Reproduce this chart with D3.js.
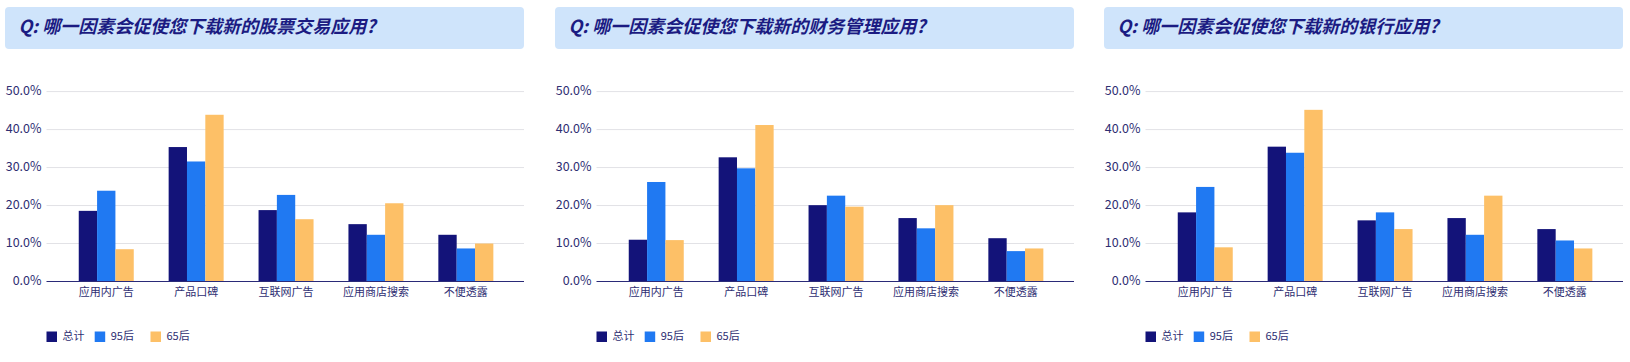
<!DOCTYPE html>
<meta charset="utf-8">
<script src="https://cdn.jsdelivr.net/npm/d3@7/dist/d3.min.js"></script>
<style>
  body { margin: 0; background: #fff; }
  text { font-family: "Noto Sans CJK SC", "Noto Sans", sans-serif; }
</style>
<div id="my_dataviz"></div>
<script>

// data
var titles = [
  "Q: 哪一因素会促使您下载新的股票交易应用?",
  "Q: 哪一因素会促使您下载新的财务管理应用?",
  "Q: 哪一因素会促使您下载新的银行应用?"
];
var categories = ["应用内广告", "产品口碑", "互联网广告", "应用商店搜索", "不便透露"];
var seriesNames = ["总计", "95后", "65后"];
var colors = ["#131379", "#2079f2", "#fdc067"];
var yTicks = [0, 0.1, 0.2, 0.3, 0.4, 0.5];

// values per chart, one array per series (总计, 95后, 65后)
var stockValues = [
  [0.186, 0.354, 0.188, 0.151, 0.123],
  [0.239, 0.316, 0.228, 0.123, 0.087],
  [0.085, 0.439, 0.164, 0.206, 0.100]
];
var financeValues = [
  [0.110, 0.327, 0.201, 0.167, 0.114],
  [0.262, 0.298, 0.226, 0.140, 0.080],
  [0.109, 0.412, 0.197, 0.201, 0.087]
];
var bankValues = [
  [0.182, 0.355, 0.161, 0.167, 0.138],
  [0.249, 0.339, 0.182, 0.123, 0.108],
  [0.090, 0.452, 0.138, 0.226, 0.087]
];
var allValues = [stockValues, financeValues, bankValues];
var offsets = [0, 550, 1099];

var svg = d3.select("#my_dataviz")
  .append("svg")
    .attr("width", 1630)
    .attr("height", 362);

var y = d3.scaleLinear().domain([0, 0.5]).range([281.5, 91.6]);
var x0 = d3.scaleBand().domain(categories).range([61.3, 510.8]);
var x1 = d3.scaleBand().domain(seriesNames).range([-27.5, 27.5]);

allValues.forEach(function(vals, p) {
  var g = svg.append("g")
    .attr("transform", "translate(" + offsets[p] + ",0)");

  // title box
  g.append("rect")
    .attr("x", 5).attr("y", 7)
    .attr("width", 519).attr("height", 42)
    .attr("rx", 4).attr("ry", 4)
    .style("fill", "#cfe4fb");
  g.append("text")
    .attr("x", 18.5).attr("y", 28)
    .attr("dominant-baseline", "middle")
    .style("font-size", "18px")
    .style("font-weight", "bold")
    .style("font-style", "italic")
    .style("fill", "#1b1b82")
    .text(titles[p]);

  // gridlines + y labels
  yTicks.forEach(function(t) {
    if (t > 0) {
      g.append("line")
        .attr("x1", 46.5).attr("x2", 524)
        .attr("y1", y(t)).attr("y2", y(t))
        .style("stroke", "#e2e2e6")
        .style("stroke-width", 1);
    }
    g.append("text")
      .attr("x", 41.5).attr("y", y(t))
      .attr("dominant-baseline", "middle")
      .style("text-anchor", "end")
      .style("font-size", "12.5px")
      .style("fill", "#2e2e72")
      .text(d3.format(".1%")(t));
  });

  // bars
  seriesNames.forEach(function(s, si) {
    g.selectAll(null)
      .data(categories)
      .enter()
      .append("rect")
        .attr("x", function(d) { return x0(d) + x0.bandwidth() / 2 + x1(s); })
        .attr("y", function(d, i) { return y(vals[si][i]); })
        .attr("width", x1.bandwidth())
        .attr("height", function(d, i) { return y(0) - y(vals[si][i]); })
        .style("fill", colors[si]);
  });

  // x axis line
  g.append("line")
    .attr("x1", 46.5).attr("x2", 524)
    .attr("y1", y(0)).attr("y2", y(0))
    .style("stroke", "#2a2a78")
    .style("stroke-width", 1.2);

  // category labels
  g.selectAll(null)
    .data(categories)
    .enter()
    .append("text")
      .attr("x", function(d) { return x0(d) + x0.bandwidth() / 2; })
      .attr("y", 293.5)
      .attr("dominant-baseline", "middle")
      .style("text-anchor", "middle")
      .style("font-size", "11px")
      .style("fill", "#2e2e72")
      .text(function(d) { return d; });

  // legend
  var legX = [46.5, 94.7, 150.5];
  seriesNames.forEach(function(s, si) {
    g.append("rect")
      .attr("x", legX[si]).attr("y", 331.5)
      .attr("width", 10.5).attr("height", 10.5)
      .style("fill", colors[si]);
    g.append("text")
      .attr("x", legX[si] + 16).attr("y", 337)
      .attr("dominant-baseline", "middle")
      .style("font-size", "11px")
      .style("fill", "#2e2e72")
      .text(s);
  });
});

</script>
